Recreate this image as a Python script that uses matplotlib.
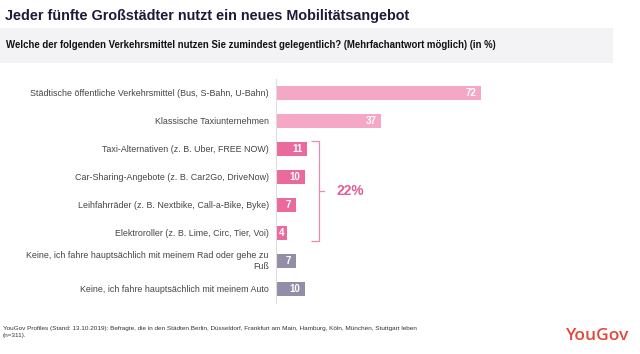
import matplotlib
matplotlib.use("Agg")
import matplotlib.pyplot as plt
from matplotlib.patches import Rectangle

plt.rcParams['font.family'] = ['Liberation Sans', 'DejaVu Sans']

categories = [
    "Städtische öffentliche Verkehrsmittel (Bus, S-Bahn, U-Bahn)",
    "Klassische Taxiunternehmen",
    "Taxi-Alternativen (z. B. Uber, FREE NOW)",
    "Car-Sharing-Angebote (z. B. Car2Go, DriveNow)",
    "Leihfahrräder (z. B. Nextbike, Call-a-Bike, Byke)",
    "Elektroroller (z. B. Lime, Circ, Tier, Voi)",
    "Keine, ich fahre hauptsächlich mit meinem Rad oder gehe zu\nFuß",
    "Keine, ich fahre hauptsächlich mit meinem Auto",
]
values = [72, 37, 11, 10, 7, 4, 7, 10]
groups = ["classic", "classic", "new", "new", "new", "new", "none", "none"]
group_colors = {"classic": "#F5A7C6", "new": "#EA6A9E", "none": "#948DA7"}
bracket_label = "22%"

title = "Jeder fünfte Großstädter nutzt ein neues Mobilitätsangebot"
subtitle = "Welche der folgenden Verkehrsmittel nutzen Sie zumindest gelegentlich? (Mehrfachantwort möglich) (in %)"
footer = ("YouGov Profiles (Stand: 13.10.2019): Befragte, die in den Städten Berlin, Düsseldorf, Frankfurt am Main, "
          "Hamburg, Köln, München, Stuttgart leben\n(n=311).")

W, H = 640, 354
fig = plt.figure(figsize=(W / 100, H / 100), dpi=100)
fig.patch.set_facecolor("white")

# subtitle band
fig.patches.append(Rectangle((0, 1 - 63 / H), 613 / W, 35 / H, transform=fig.transFigure,
                             facecolor="#F3F3F6", edgecolor="none", zorder=0))

fig.text(5 / W, 1 - 16 / H, title, fontsize=10.4, fontweight="bold", color="#1C1C3A",
         va="center", ha="left")
fig.text(6 / W, 1 - 45 / H, subtitle, fontsize=6.9, fontweight="bold", color="#111111",
         va="center", ha="left")

ax = fig.add_axes([276 / W, (H - 303) / H, 285 / W, 224 / H])
ax.set_xlim(0, 100)
n = len(values)
ax.set_ylim(n - 0.5, -0.5)
ypos = list(range(n))
cols = [group_colors[g] for g in groups]
ax.barh(ypos, values, height=0.52, color=cols, edgecolor="none")

for y, v in zip(ypos, values):
    if v < 6:
        ax.text(v / 2, y, str(v), ha="center", va="center", color="white",
                fontsize=7, fontweight="bold")
    else:
        ax.text(v - 1.7, y, str(v), ha="right", va="center", color="white",
                fontsize=7, fontweight="bold")

for y, c in zip(ypos, categories):
    ax.text(-2.5, y, c, ha="right", va="center", color="#444444", fontsize=6.4,
            linespacing=1.3)

for s in ["top", "right", "bottom"]:
    ax.spines[s].set_visible(False)
ax.spines["left"].set_color("#DDDDDD")
ax.spines["left"].set_linewidth(0.8)
ax.set_xticks([])
ax.set_yticks([])

# bracket around the new-mobility group
new_idx = [i for i, g in enumerate(groups) if g == "new"]
top, bot = new_idx[0] - 0.3, new_idx[-1] + 0.3
bx = 15.1
ax.plot([bx - 2.8, bx, bx, bx - 2.8], [top, top, bot, bot], color="#E98AB0", lw=0.9,
        solid_capstyle="butt", solid_joinstyle="miter", clip_on=False)
mid = (new_idx[0] + new_idx[-1]) / 2
ax.plot([bx, bx + 1.8], [mid, mid], color="#E98AB0", lw=0.9, clip_on=False)
ax.text(bx + 6.3, mid, bracket_label, ha="left", va="center", color="#E0609A",
        fontsize=10, fontweight="bold")

fig.text(3 / W, 1 - 332 / H, footer, fontsize=4.6, color="#333333", va="center",
         ha="left", linespacing=1.7)
fig.text(598 / W, 1 - 336 / H, "YouGov", fontsize=12.5, color="#E2483D", va="center",
         ha="center", fontweight="semibold", family=["Open Sans", "DejaVu Sans"])

fig.savefig("out.png", dpi=100)
